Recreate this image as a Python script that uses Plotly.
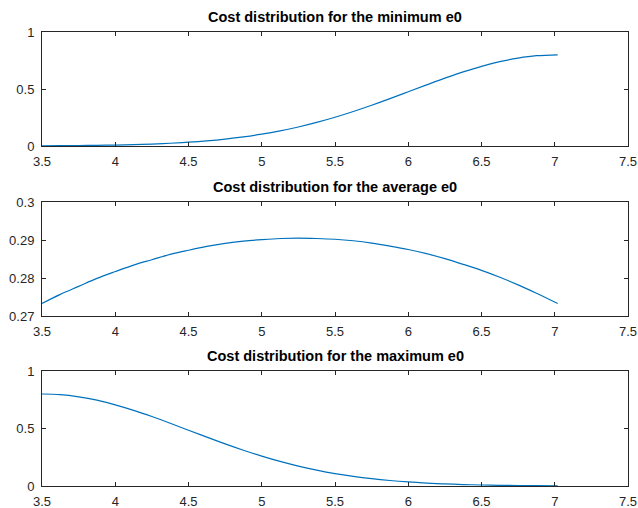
import plotly.graph_objects as go

x_vals = [3.5, 3.625, 3.75, 3.875, 4.0, 4.125, 4.25, 4.375, 4.5, 4.625, 4.75, 4.875,
          5.0, 5.125, 5.25, 5.375, 5.5, 5.625, 5.75, 5.875, 6.0, 6.125, 6.25, 6.375,
          6.5, 6.625, 6.75, 6.875, 7.02]

cost_min = [0.0016, 0.0025, 0.0038, 0.0057, 0.0084, 0.0121, 0.0173, 0.0242, 0.0334, 0.0455,
            0.0609, 0.0802, 0.104, 0.1328, 0.167, 0.2068, 0.252, 0.3024, 0.357, 0.4152,
            0.476, 0.536, 0.595, 0.650, 0.699, 0.740, 0.771, 0.792, 0.800]
cost_avg = [0.2733, 0.2757, 0.2778, 0.2799, 0.2817, 0.2834, 0.2848, 0.2862, 0.2873, 0.2883,
            0.2891, 0.2897, 0.2901, 0.2904, 0.2905, 0.2904, 0.2902, 0.2898, 0.2892, 0.2884,
            0.2875, 0.2864, 0.2851, 0.2836, 0.2820, 0.2802, 0.2782, 0.2760, 0.2733]
cost_max = [0.800, 0.794, 0.775, 0.746, 0.706, 0.658, 0.604, 0.546, 0.485, 0.425,
            0.366, 0.311, 0.260, 0.214, 0.173, 0.138, 0.108, 0.0837, 0.0637, 0.0477,
            0.0351, 0.0255, 0.0182, 0.0128, 0.0089, 0.0061, 0.0041, 0.0027, 0.0016]

titles = ["Cost distribution for the minimum e0",
          "Cost distribution for the average e0",
          "Cost distribution for the maximum e0"]
y_ranges = [[0, 1], [0.27, 0.30], [0, 1]]
y_dticks = [0.5, 0.01, 0.5]
x_range = [3.5, 7.5]
x_dtick = 0.5

W, H = 638, 508
left_px, right_px = 42, 628
boxes_px = [(32, 146), (202, 316), (371, 486)]
top_px, bot_px = boxes_px[0][0], boxes_px[-1][1]
plot_h = bot_px - top_px

fig = go.Figure()
series = [cost_min, cost_avg, cost_max]
axis_col = "#262626"
font_fam = "Liberation Sans, Arial, Helvetica, sans-serif"

layout = dict(
    width=W, height=H,
    margin=dict(l=left_px, r=W - right_px, t=top_px, b=H - bot_px, autoexpand=False),
    paper_bgcolor="white", plot_bgcolor="white",
    showlegend=False,
    font=dict(family=font_fam, size=13, color=axis_col),
    annotations=[],
)

for i, ys in enumerate(series):
    n = "" if i == 0 else str(i + 1)
    fig.add_trace(go.Scatter(
        x=x_vals, y=ys, mode="lines",
        line=dict(color="#0072BD", width=1.2, shape="spline", smoothing=1.0),
        xaxis="x" + n, yaxis="y" + n,
    ))
    top, bot = boxes_px[i]
    ydom = [(bot_px - bot) / plot_h, (bot_px - top) / plot_h]
    common = dict(
        showline=True, linecolor=axis_col, linewidth=1, mirror="ticks",
        ticks="inside", ticklen=4, tickcolor=axis_col, tickwidth=1,
        showgrid=False, zeroline=False, automargin=False,
        ticklabeloverflow="allow",
        tickfont=dict(family=font_fam, size=13, color=axis_col),
    )
    layout["xaxis" + n] = dict(domain=[0, 1], range=x_range, dtick=x_dtick, tick0=3.5,
                               anchor="y" + n, ticklabelstandoff=3, **common)
    layout["yaxis" + n] = dict(domain=ydom, range=y_ranges[i], dtick=y_dticks[i],
                               tick0=y_ranges[i][0], anchor="x" + n,
                               ticklabelstandoff=4, **common)
    layout["annotations"].append(dict(
        text="<b>" + titles[i] + "</b>", x=0.5, y=1 + 15 / (bot - top),
        xref="x" + n + " domain", yref="y" + n + " domain",
        xanchor="center", yanchor="middle", showarrow=False,
        font=dict(family=font_fam, size=14.5, color="black"),
    ))

fig.update_layout(**layout)
fig.write_html("out.html")
